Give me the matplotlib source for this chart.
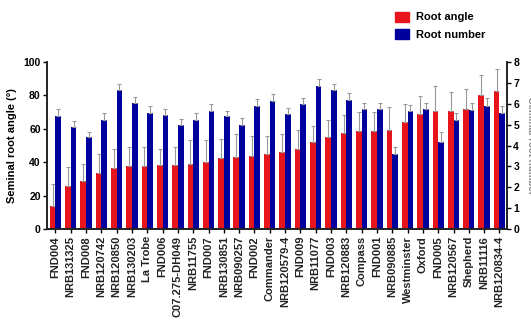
import numpy as np
import matplotlib.pyplot as plt
from matplotlib.patches import Patch

plt.rcParams['font.family'] = ['Liberation Sans', 'DejaVu Sans']
plt.rcParams['font.weight'] = 'bold'

# Genotypes, ordered by root angle
lines = ['FND004', 'NRB131325', 'FND008', 'NRB120742', 'NRB120850', 'NRB130203',
         'La Trobe', 'FND006', 'C07.275-DH049', 'NRB11755', 'FND007', 'NRB130851',
         'NRB090257', 'FND002', 'Commander', 'NRB120579-4', 'FND009', 'NRB11077',
         'FND003', 'NRB120883', 'Compass', 'FND001', 'NRB090885', 'Westminster',
         'Oxford', 'FND005', 'NRB120567', 'Shepherd', 'NRB11116', 'NRB120834-4']

# Seminal root angle (deg) and upper error
angle = [13.5, 25.9, 28.5, 33.5, 36.5, 37.5, 37.5, 38.4, 38.5, 39.1, 40.1, 42.5,
         43.1, 43.9, 45.0, 45.9, 48.1, 51.9, 55.1, 57.5, 58.9, 58.9, 59.5, 64.3,
         68.9, 70.8, 70.8, 72.0, 80.0, 82.8]
angle_err = [13.6, 11.2, 10.4, 11.6, 11.6, 11.6, 11.6, 9.7, 10.6, 14.0, 13.0, 11.4,
             14.0, 11.6, 10.5, 11.2, 11.0, 10.0, 10.3, 10.9, 10.9, 10.9, 13.5, 10.6,
             10.9, 15.0, 11.0, 12.0, 12.4, 13.2]

# Seminal root number and upper error
number = [5.42, 4.88, 4.40, 5.23, 6.66, 6.03, 5.58, 5.47, 4.99, 5.20, 5.67, 5.42,
          4.99, 5.90, 6.14, 5.50, 6.00, 6.87, 6.66, 6.19, 5.74, 5.74, 3.59, 5.63,
          5.74, 4.19, 5.23, 5.71, 5.90, 5.55]
number_err = [0.34, 0.30, 0.27, 0.32, 0.29, 0.31, 0.32, 0.28, 0.29, 0.38, 0.33, 0.25,
              0.32, 0.32, 0.32, 0.29, 0.30, 0.31, 0.29, 0.31, 0.29, 0.29, 0.36, 0.32,
              0.32, 0.48, 0.32, 0.32, 0.37, 0.35]

red = '#e8141c'
blue = '#00009c'
x = np.arange(len(lines))
w = 0.37

fig = plt.figure(figsize=(5.31, 3.23), dpi=100)
ax = fig.add_axes([0.0885, 0.291, 0.8665, 0.517])
ax2 = ax.twinx()

ax.bar(x - w / 2, angle, w, color=red,
       yerr=[np.zeros(len(angle)), angle_err],
       error_kw=dict(ecolor='#999999', elinewidth=0.8, capsize=1.2, capthick=0.8))
ax2.bar(x + w / 2, number, w, color=blue,
        yerr=[np.zeros(len(number)), number_err],
        error_kw=dict(ecolor='#999999', elinewidth=0.8, capsize=1.2, capthick=0.8))

ax.set_xlim(-0.55, len(lines) - 0.5)
ax.set_ylim(0, 100)
ax2.set_ylim(0, 8)
ax.set_yticks([0, 20, 40, 60, 80, 100])
ax2.set_yticks(range(9))
ax.set_xticks(x)
ax.set_xticklabels(lines, rotation=90, fontsize=8, color='#222222')
ax.tick_params(axis='x', length=3, width=1, pad=2)
ax.tick_params(axis='y', labelsize=7.5, length=3, width=1, pad=1.5)
ax2.tick_params(axis='y', labelsize=7.5, length=3, width=1, pad=1.5)

for a in (ax, ax2):
    a.spines['top'].set_visible(False)
    for s in ('left', 'right', 'bottom'):
        a.spines[s].set_linewidth(1.2)
        a.spines[s].set_color('#222222')

ax.set_ylabel('Seminal root angle (\u00b0)', fontsize=8, fontweight='bold', labelpad=5)
fig.text(0.99, 0.55, 'Seminal root number', rotation=270, fontsize=7,
         color='#888888', ha='left', va='center')

handles = [Patch(color=red, label='Root angle'), Patch(color=blue, label='Root number')]
fig.legend(handles=handles, loc='upper left', bbox_to_anchor=(0.725, 0.995),
           frameon=False, fontsize=8, handlelength=1.3, handleheight=1.0,
           handletextpad=0.6, labelspacing=0.6)

fig.savefig('out.png', dpi=100)
